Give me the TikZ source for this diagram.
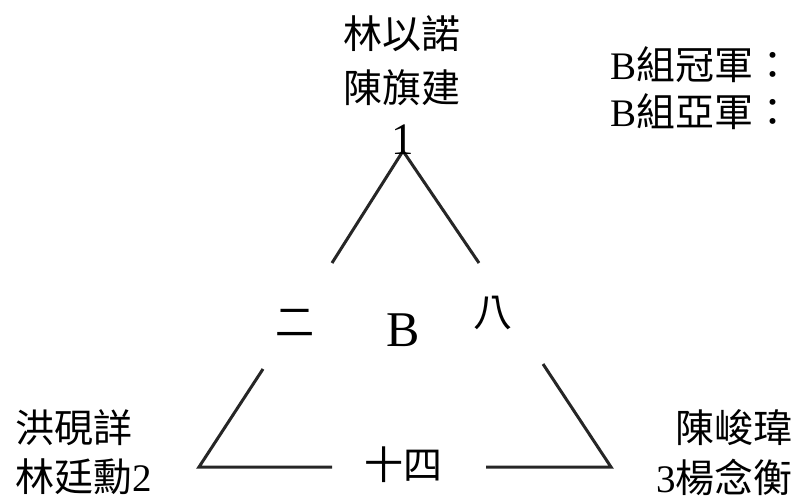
\documentclass[tikz,border=0pt]{standalone}
\usepackage{fontspec}
\setmainfont{Liberation Serif}
\newfontfamily\cjk{Noto Sans CJK TC}
\begin{document}
\begin{tikzpicture}[x=1pt,y=-1pt,
  edge/.style={draw=black!85,line width=3pt,line join=miter},
  lab/.style={inner sep=0pt,font=\fontsize{39}{46}\selectfont\cjk},
  num/.style={inner sep=0pt,font=\fontsize{45}{50}\selectfont}]
\useasboundingbox (0,0) rectangle (795,500);
% triangle corners
\coordinate (apex) at (403,151);
\coordinate (L1) at (332,263);
\coordinate (R1) at (479,263);
\coordinate (L2) at (263,369);
\coordinate (R2) at (543,364);
\coordinate (BL) at (199,467);
\coordinate (BR) at (611,467);
\coordinate (B1) at (332,467);
\coordinate (B2) at (486,467);
\draw[edge] (L1) -- (apex) -- (R1);
\draw[edge] (L2) -- (BL) -- (B1);
\draw[edge] (R2) -- (BR) -- (B2);
% top player
\node[lab] (t1) at (402,34) {林以諾};
\node[lab] (t2) at (402,88) {陳旗建};
\node[num] (t3) at (403,140) {1};
% top right
\node[lab,anchor=west] (c1) at (610,65) {\rmfamily B\cjk 組冠軍：};
\node[lab,anchor=west] (c2) at (610,112) {\rmfamily B\cjk 組亞軍：};
% bottom left
\node[lab,anchor=west] (l1) at (15,428) {洪硯詳};
\node[lab,anchor=west] (l2) at (15,477) {林廷勳\rmfamily 2};
% bottom right
\node[lab,anchor=east] (r1) at (793,428) {陳峻瑋};
\node[lab,anchor=east] (r2) at (793,477) {\rmfamily 3\cjk 楊念衡};
% labels
\node[lab] (s2) at (295,323) {二};
\node[inner sep=0pt,font=\fontsize{50}{56}\selectfont] (grp) at (403,330) {B};
\node[lab] (s8) at (493,313) {八};
\node[lab] (s14) at (403,465) {十四};
\end{tikzpicture}
\end{document}
